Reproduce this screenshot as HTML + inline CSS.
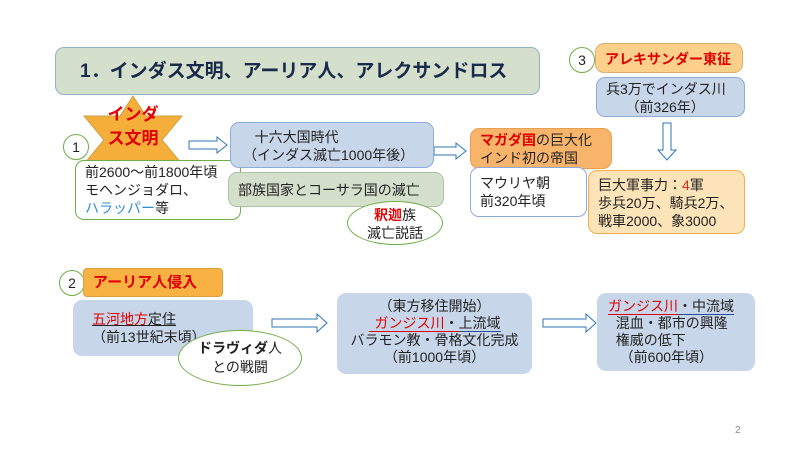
<!DOCTYPE html>
<html><head><meta charset="utf-8"><style>
body{margin:0;width:800px;height:450px;background:#fff;position:relative;overflow:hidden;font-family:"Liberation Sans","Noto Sans CJK JP",sans-serif;color:#222}
.b{position:absolute;box-sizing:border-box;border-radius:9px;font-size:14px;line-height:18px}
.blue{background:#c8d6ea;border:1px solid #8eaadb}
.green{background:#d4e0cc;border:1px solid #8fb3c9}
.white{background:#fff;border:1px solid #70ad47}
.r{color:#e00000}
.c{position:absolute;border:1px solid #70ad47;border-radius:50%;background:#fff;box-sizing:border-box;text-align:center;font-size:14px}
svg{position:absolute;left:0;top:0}
</style></head><body>
<div class="b green" style="left:55px;top:47px;width:485px;height:48px;font-size:19px;font-weight:bold;color:#1a2a4a;padding:13px 0 0 24px;line-height:22px">1．インダス文明、アーリア人、アレクサンドロス</div>

<svg width="800" height="450">
<polygon points="133,96 146,116 182,116 162,140 182,164 146,164 133,186 120,164 84,164 104,140 84,116 120,116" fill="#f5ae3a" stroke="#c9a040"/>
<g fill="#fff" stroke="#2e75b6" stroke-width="1">
<polygon points="189,141 217,141 217,137 227,145 217,153 217,149 189,149"/>
<polygon points="434,147 456,147 456,143 466,151 456,159 456,155 434,155"/>
<polygon points="663,123 671,123 671,150 676,150 667,160 658,150 663,150"/>
<polygon points="272,319 317,319 317,314 327,323 317,332 317,327 272,327"/>
<polygon points="543,319 586,319 586,314 596,323 586,332 586,327 543,327"/>
</g>
<text x="735" y="433" font-size="10" fill="#888" font-family="Liberation Sans">2</text>
</svg>
<div style="position:absolute;left:93px;top:103px;width:80px;font-size:17px;line-height:24px;font-weight:bold;color:#e00000;text-align:center;white-space:nowrap">インダ<br>ス文明</div>
<div class="c" style="left:63px;top:134px;width:26px;height:26px;line-height:24px">1</div>
<div class="b white" style="left:75px;top:160px;width:166px;height:60px;padding:2px 0 0 9px">前2600～前1800年頃<br>モヘンジョダロ、<br><span style="color:#2e8bd0">ハラッパー</span>等</div>

<div class="b blue" style="left:230px;top:122px;width:204px;height:46px;padding:5px 0 0 12px;line-height:18px">&nbsp;&nbsp;&nbsp;十六大国時代<br>（インダス滅亡1000年後）</div>
<div class="b green" style="left:228px;top:172px;width:216px;height:35px;padding:8px 0 0 9px;border-color:#a9c4a0">部族国家とコーサラ国の滅亡</div>
<div class="c" style="left:347px;top:201px;width:96px;height:44px;line-height:18px;padding-top:4px"><b class="r">釈迦</b>族<br>滅亡説話</div>

<div class="b" style="left:470px;top:128px;width:142px;height:41px;background:#f8b46a;border:1px solid #e8a050;padding:2px 0 0 9px;line-height:18px"><b class="r">マガダ国</b>の巨大化<br>インド初の帝国</div>
<div class="b" style="left:470px;top:167px;width:117px;height:50px;background:#fff;border:1px solid #8eaadb;padding:6px 0 0 9px">マウリヤ朝<br>前320年頃</div>

<div class="c" style="left:569px;top:47px;width:26px;height:26px;line-height:24px">3</div>
<div class="b" style="left:595px;top:43px;width:148px;height:30px;background:#fcd08b;border:1px solid #d9b070;padding:6px 0 0 9px;font-weight:bold;color:#e00000">アレキサンダー東征</div>
<div class="b blue" style="left:596px;top:77px;width:149px;height:40px;padding:2px 0 0 9px">兵3万でインダス川<br>&nbsp;&nbsp;&nbsp;&nbsp;&nbsp;（前326年）</div>
<div class="b" style="left:588px;top:170px;width:157px;height:64px;background:#fde3b8;border:1px solid #f0b050;padding:5px 0 0 9px">巨大軍事力：<span style="color:#d03020">4</span>軍<br>歩兵20万、騎兵2万、<br>戦車2000、象3000</div>

<div class="c" style="left:59px;top:270px;width:26px;height:26px;line-height:24px">2</div>
<div class="b" style="left:83px;top:268px;width:140px;height:29px;background:#f8b243;border:1px solid #d9a040;border-radius:4px;padding:5px 0 0 9px;font-weight:bold;color:#e00000;font-size:15px">アーリア人侵入</div>
<div class="b blue" style="left:73px;top:300px;width:180px;height:56px;padding:9px 0 0 18px;border-color:#c8d6ea"><span style="text-decoration:underline"><span class="r">五河地方</span>定住</span><br>（前13世紀末頃）</div>
<div class="c" style="left:178px;top:330px;width:124px;height:56px;line-height:19px;padding-top:8px"><b>ドラヴィダ</b>人<br>との戦闘</div>

<div class="b blue" style="left:337px;top:293px;width:195px;height:81px;padding:4px 0 0 0;text-align:center;border-color:#c8d6ea;line-height:17px">（東方移住開始）<br><span style="border-bottom:1px solid #e00000;padding-left:6px"><span class="r">ガンジス川</span>・</span><span style="border-bottom:1px solid #2e4a9a">上流域</span><br>バラモン教・骨格文化完成<br>（前1000年頃）</div>

<div class="b blue" style="left:597px;top:293px;width:158px;height:78px;padding:4px 0 0 10px;border-color:#c8d6ea;line-height:17px"><span style="border-bottom:1px solid #e00000"><span class="r">ガンジス川</span></span><span style="border-bottom:1px solid #2e4a9a">・中流域</span><br>&nbsp;&nbsp;混血・都市の興隆<br>&nbsp;&nbsp;権威の低下<br>&nbsp;&nbsp;&nbsp;（前600年頃）</div>
</body></html>
